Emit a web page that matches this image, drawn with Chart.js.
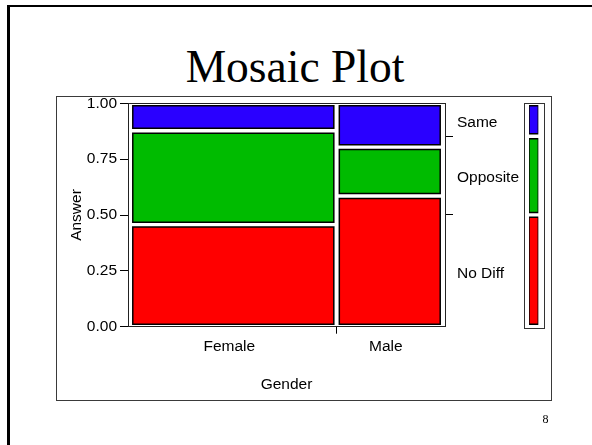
<!DOCTYPE html>
<html>
<head>
<meta charset="utf-8">
<script src="https://cdn.jsdelivr.net/npm/chart.js@4.4.1/dist/chart.umd.min.js"></script>
<style>
html,body{margin:0;padding:0;background:#fff;width:592px;height:445px;overflow:hidden;}
#slide{position:absolute;left:7px;top:5px;width:620px;height:470px;border-left:3px solid #000;border-top:2px solid #000;}
#title{position:absolute;left:-2px;top:44px;width:594px;text-align:center;font:45.5px/45px 'Liberation Serif','Times New Roman',serif;color:#000;white-space:nowrap;}
#box{position:absolute;left:56px;top:96px;width:494px;height:303px;border:1.5px solid #3a3a3a;}
#lframe{position:absolute;left:523.5px;top:103px;width:19px;height:224px;border:1px solid #333;}
#pg{position:absolute;left:535px;top:413px;width:21px;text-align:center;font:12px/12px 'Liberation Serif','Times New Roman',serif;color:#000;}
canvas{position:absolute;}
</style>
</head>
<body>
<div id="slide"></div>
<div id="title">Mosaic Plot</div>
<div id="box"></div>
<div id="lframe"></div>
<canvas id="main" width="592" height="445" style="left:0;top:0"></canvas>
<canvas id="leg" width="19" height="232" style="left:524px;top:100px"></canvas>
<div id="pg">8</div>
<script>
// ---- data ----
const genders = ['Female', 'Male'];
const answers = ['No Diff', 'Opposite', 'Same'];
const genderShare = [0.66, 0.34];      // column widths (share of each gender)
const noDiff   = [0.457, 0.585];       // conditional proportions per gender
const opposite = [0.420, 0.219];
const same     = [0.123, 0.196];
const yTicks = [0, 0.25, 0.5, 0.75, 1];
const answerColors = ['#ff0000', '#00bb00', '#2a00ff'];

// ---- derived ----
const series = [noDiff, opposite, same];
const GX = 0.0088, GY = 0.011;

function rectDataset(x0, x1, y0, y1, color) {
  return {
    data: [{x:x0,y:y0},{x:x1,y:y0},{x:x1,y:y1},{x:x0,y:y1},{x:x0,y:y0},{x:x1,y:y0}],
    borderColor: '#000', borderWidth: 1.5, backgroundColor: color,
    fill: 'shape', tension: 0, pointRadius: 0, pointHoverRadius: 0,
    borderJoinStyle: 'miter'
  };
}

const cells = [];
const xTickVals = [], xTickLabels = [];
let cumX = 0;
genders.forEach((g, gi) => {
  const x0 = cumX, x1 = cumX + genderShare[gi];
  let cumY = 0;
  series.forEach((s, si) => {
    const y0 = cumY, y1 = cumY + s[gi];
    cells.push(rectDataset(x0 + GX, x1 - GX, y0 + GY, y1 - GY, answerColors[si]));
    cumY = y1;
  });
  xTickVals.push((x0 + x1) / 2); xTickLabels.push(g);
  if (gi < genders.length - 1) { xTickVals.push(x1); xTickLabels.push(''); }
  cumX = x1;
});

// marginal distribution of answers
const marg = series.map(s => s.reduce((a, v, i) => a + v * genderShare[i], 0));
const rightVals = [], rightLabels = [];
let cm = 0;
answers.forEach((a, i) => {
  rightVals.push(cm + marg[i] / 2); rightLabels.push(a);
  cm += marg[i];
  if (i < answers.length - 1) { rightVals.push(cm); rightLabels.push(''); }
});

Chart.defaults.font.family = "'Liberation Sans', Arial, sans-serif";
Chart.defaults.font.size = 15.5;
Chart.defaults.color = '#000';

const noTick = 'rgba(0,0,0,0)';

new Chart(document.getElementById('main'), {
  type: 'line',
  data: { datasets: cells },
  options: {
    responsive: false, animation: false, events: [],
    layout: { autoPadding: false, padding: { left: 57, right: 41, top: 103.3, bottom: 48.3 } },
    plugins: { legend: { display: false }, tooltip: { enabled: false } },
    scales: {
      x: {
        type: 'linear', position: 'bottom', min: -0.0065, max: 1.0065, bounds: 'data',
        afterBuildTicks: s => { s.ticks = xTickVals.map(v => ({ value: v })); },
        afterFit: s => { s.height = 70; },
        ticks: { callback: (v, i) => xTickLabels[i], autoSkip: false, maxRotation: 0, padding: 4, labelOffset: -4 },
        grid: { drawOnChartArea: false, tickLength: 7, tickWidth: 1,
                tickColor: c => xTickLabels[c.index] ? noTick : '#000' },
        border: { display: true, color: '#222', width: 1 },
        title: { display: true, text: 'Gender', padding: { top: 0, bottom: 3 } }
      },
      xTop: {
        type: 'linear', position: 'top', min: 0, max: 1,
        afterFit: s => { s.height = 0; },
        ticks: { display: false }, grid: { display: false, drawTicks: false },
        border: { display: true, color: '#222', width: 1 }
      },
      y: {
        type: 'linear', position: 'left', min: 0, max: 1, bounds: 'data',
        afterBuildTicks: s => { s.ticks = yTicks.map(v => ({ value: v })); },
        afterFit: s => { s.width = 71; },
        ticks: { callback: v => v.toFixed(2), autoSkip: false, padding: 3 },
        grid: { drawOnChartArea: false, tickLength: 8, tickWidth: 1, tickColor: '#000' },
        border: { display: true, color: '#222', width: 1 },
        title: { display: true, text: 'Answer', padding: { top: 10, bottom: 0 } }
      },
      y2: {
        type: 'linear', position: 'right', min: 0, max: 1, bounds: 'data',
        afterBuildTicks: s => { s.ticks = rightVals.map(v => ({ value: v })); },
        afterFit: s => { s.width = 106; },
        ticks: { callback: (v, i) => rightLabels[i], autoSkip: false, padding: 4, labelOffset: 2.5 },
        grid: { drawOnChartArea: false, tickLength: 8, tickWidth: 1,
                tickColor: c => rightLabels[c.index] ? noTick : '#000' },
        border: { display: true, color: '#222', width: 1 }
      }
    }
  }
});

// marginal bar (legend strip)
const legCells = [];
let cy = 0;
answers.forEach((a, i) => {
  legCells.push(rectDataset(0, 1, cy + GY, cy + marg[i] - GY, answerColors[i]));
  cy += marg[i];
});
new Chart(document.getElementById('leg'), {
  type: 'line',
  data: { datasets: legCells },
  options: {
    responsive: false, animation: false, events: [],
    layout: { autoPadding: false, padding: { left: 5, right: 4.7, top: 3.3, bottom: 5.3 } },
    plugins: { legend: { display: false }, tooltip: { enabled: false } },
    scales: {
      x: { type: 'linear', min: 0, max: 1, display: false },
      y: { type: 'linear', min: 0, max: 1, display: false }
    }
  }
});
</script>
</body>
</html>
